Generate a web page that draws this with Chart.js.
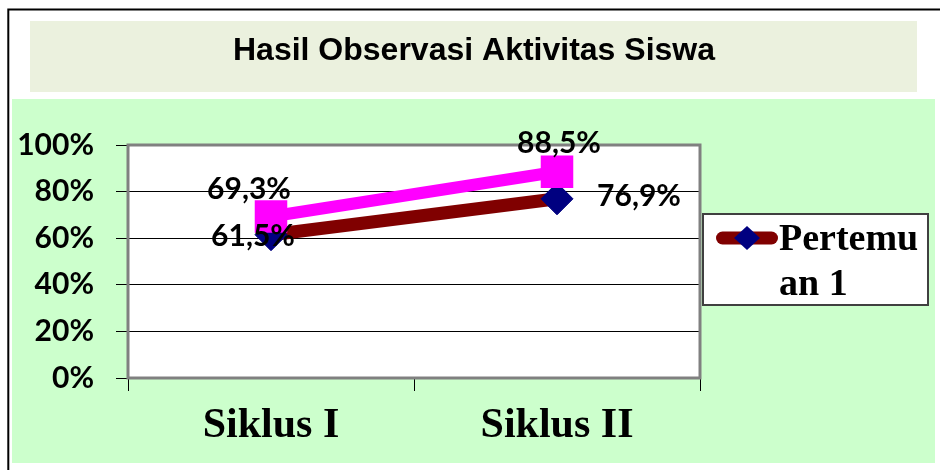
<!DOCTYPE html>
<html>
<head>
<meta charset="utf-8">
<script src="https://cdn.jsdelivr.net/npm/chart.js@4.4.1/dist/chart.umd.min.js"></script>
<style>
html, body { margin: 0; padding: 0; background: #fff; }
</style>
</head>
<body>
<canvas id="obsChart" width="940" height="470"></canvas>
<script>
// categories
const siklus = ['Siklus I', 'Siklus II'];
// values in percent
const pertemuan1 = [61.5, 76.9];
const pertemuan2 = [69.3, 88.5];
// y axis ticks
const yTicks = [0, 20, 40, 60, 80, 100];

function pct(v) {
  return v.toFixed(1).replace('.', ',') + '%';
}

// break text by characters, like excel does in a narrow legend
function wrapChars(ctx, text, maxW) {
  var lines = [], cur = '';
  for (const ch of text) {
    if (cur && ctx.measureText(cur + ch).width > maxW) {
      lines.push(cur.trimEnd());
      cur = ch === ' ' ? '' : ch;
    } else {
      cur += ch;
    }
  }
  if (cur) lines.push(cur);
  return lines;
}

const framePlugin = {
  id: 'frame',
  beforeDraw(chart) {
    var ctx = chart.ctx, a = chart.chartArea;
    ctx.save();
    ctx.fillStyle = '#ffffff';
    ctx.fillRect(0, 0, chart.width, chart.height);
    ctx.fillStyle = '#ccffcc';
    ctx.fillRect(12, 99, 923, 364);
    ctx.fillStyle = '#ebf1de';
    ctx.fillRect(30, 21, 887, 71);
    ctx.strokeStyle = '#000';
    ctx.lineWidth = 2;
    ctx.strokeRect(8.3, 9.5, 1000, 1000);
    ctx.fillStyle = '#ffffff';
    ctx.fillRect(a.left, a.top, a.width, a.height);
    ctx.restore();
  },
  beforeDatasetsDraw(chart) {
    var ctx = chart.ctx, a = chart.chartArea;
    ctx.save();
    ctx.strokeStyle = '#808080';
    ctx.lineWidth = 3;
    ctx.strokeRect(a.left, a.top, a.width, a.height);
    ctx.restore();
  },
  afterDatasetsDraw(chart, args, opts) {
    var ctx = chart.ctx;
    ctx.save();
    ctx.font = 'bold 30px Lato';
    ctx.fillStyle = '#000';
    ctx.textAlign = 'center';
    ctx.textBaseline = 'alphabetic';
    chart.data.datasets.forEach(function(ds, i) {
      var meta = chart.getDatasetMeta(i);
      meta.data.forEach(function(pt, j) {
        var off = opts.offsets[i][j];
        ctx.fillText(pct(ds.data[j]), pt.x + off[0], pt.y + off[1] + 11);
      });
    });
    ctx.restore();
  },
  afterDraw(chart, args, opts) {
    var ctx = chart.ctx, lg = opts.legend;
    var ds = chart.data.datasets[0];
    ctx.save();
    ctx.fillStyle = '#fff';
    ctx.fillRect(lg.left, lg.top, lg.width, lg.height);
    ctx.strokeStyle = '#404040';
    ctx.lineWidth = 2;
    ctx.strokeRect(lg.left, lg.top, lg.width, lg.height);
    // line sample
    var my = lg.top + 24;
    ctx.strokeStyle = ds.borderColor;
    ctx.lineWidth = ds.borderWidth;
    ctx.lineCap = 'round';
    ctx.beginPath();
    ctx.moveTo(lg.left + 19.5, my);
    ctx.lineTo(lg.left + 68.5, my);
    ctx.stroke();
    // diamond
    var cx = lg.left + 44;
    ctx.fillStyle = ds.pointBackgroundColor;
    ctx.beginPath();
    ctx.moveTo(cx, my - 12);
    ctx.lineTo(cx + 13, my);
    ctx.lineTo(cx, my + 12);
    ctx.lineTo(cx - 13, my);
    ctx.closePath();
    ctx.fill();
    // text
    ctx.font = 'bold 38px "Liberation Serif"';
    ctx.fillStyle = '#000';
    ctx.textAlign = 'left';
    ctx.textBaseline = 'alphabetic';
    var lines = wrapChars(ctx, ds.label, 145);
    lines.forEach(function(t, k) {
      ctx.fillText(t, lg.left + 76, lg.top + 36 + k * 45);
    });
    ctx.restore();
  }
};

var ctx = document.getElementById('obsChart').getContext('2d');
var obsChart = new Chart(ctx, {
  type: 'line',
  data: {
    labels: siklus,
    datasets: [{
      label: 'Pertemuan 1',
      data: pertemuan1,
      borderColor: '#800000',
      borderWidth: 13,
      pointStyle: 'rectRot',
      pointRadius: 16,
      pointBackgroundColor: '#000080',
      pointBorderColor: '#000080',
      pointBorderWidth: 1,
      order: 2
    }, {
      label: 'Pertemuan 2',
      data: pertemuan2,
      borderColor: '#ff00ff',
      borderWidth: 12,
      pointStyle: 'rect',
      pointRadius: 23,
      pointBackgroundColor: '#ff00ff',
      pointBorderColor: '#ff00ff',
      pointBorderWidth: 0,
      order: 1
    }]
  },
  options: {
    responsive: false,
    devicePixelRatio: 1,
    animation: false,
    events: [],
    clip: false,
    layout: { padding: { top: 32.3, left: 8, right: 0, bottom: 0 } },
    scales: {
      x: {
        offset: true,
        grid: { offset: true, drawOnChartArea: false, color: '#000', tickLength: 13 },
        border: { display: false },
        ticks: {
          color: '#000',
          font: { family: 'Liberation Serif', weight: 'bold', size: 42 },
          padding: 10
        },
        afterFit: function(s) { s.height = 92; }
      },
      y: {
        min: 0,
        max: 100,
        afterBuildTicks: function(s) { s.ticks = yTicks.map(function(v) { return { value: v }; }); },
        grid: { color: '#000', lineWidth: 1, tickLength: 12 },
        border: { display: false },
        ticks: {
          color: '#000',
          font: { family: 'Lato', weight: 'bold', size: 30 },
          padding: 22,
          callback: function(v) { return v + '%'; }
        },
        afterFit: function(s) { s.width = 120; }
      },
      // empty right axis, only keeps room for the legend
      spare: {
        position: 'right',
        ticks: { display: false },
        grid: { display: false },
        border: { display: false },
        afterFit: function(s) { s.width = 240; }
      }
    },
    plugins: {
      legend: { display: false },
      tooltip: { enabled: false },
      title: {
        display: true,
        text: 'Hasil Observasi Aktivitas Siswa',
        color: '#000',
        font: { family: 'Liberation Sans', weight: 'bold', size: 32 },
        padding: { top: 0, bottom: 74.3 }
      },
      frame: {
        offsets: [[[-18, 0], [82, -4]], [[-22, -29], [2, -30]]],
        legend: { left: 703, top: 214, width: 225, height: 91 }
      }
    }
  },
  plugins: [framePlugin]
});
</script>
</body>
</html>
